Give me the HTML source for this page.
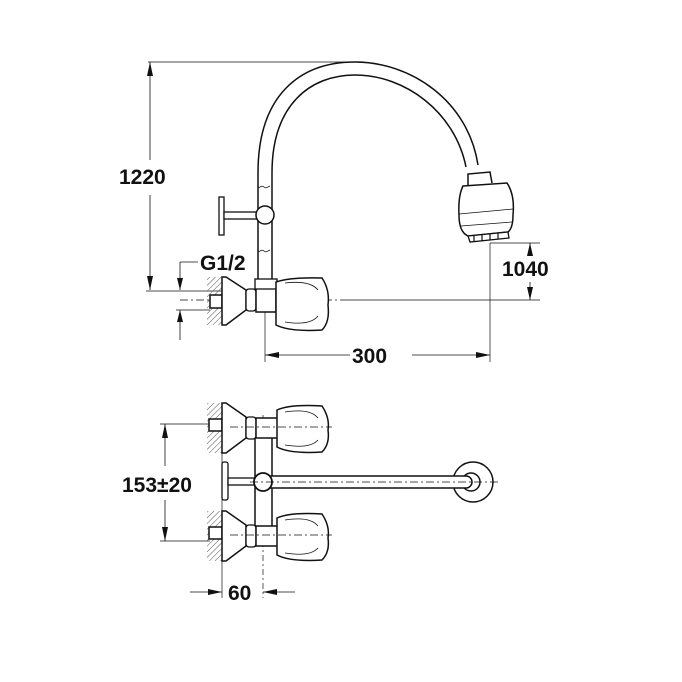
<!DOCTYPE html>
<html><head><meta charset="utf-8"><style>
html,body{margin:0;padding:0;background:#fff}
svg{display:block}
text{font-family:"Liberation Sans",sans-serif;font-weight:bold;font-size:21px;fill:#111}
</style></head><body>
<svg width="682" height="682" viewBox="0 0 682 682" xmlns="http://www.w3.org/2000/svg">
<defs>
<pattern id="h" width="4" height="4" patternUnits="userSpaceOnUse" patternTransform="rotate(45)"><line x1="0" y1="0" x2="0" y2="4" stroke="#555" stroke-width="1"/></pattern>
</defs>
<g fill="#111" stroke="none">
<!-- arrowheads -->
<polygon points="150,62 147,76 153,76"/>
<polygon points="150,290 147,276 153,276"/>
<polygon points="180,290 177,278 183,278"/>
<polygon points="180,310 177,322 183,322"/>
<polygon points="265,355 279,352 279,358"/>
<polygon points="490,355 476,352 476,358"/>
<polygon points="530,243 527,256 533,256"/>
<polygon points="530,300 527,287 533,287"/>
<polygon points="165,424 162,438 168,438"/>
<polygon points="165,541 162,527 168,527"/>
<polygon points="222,592 208,589 208,595"/>
<polygon points="263,592 277,589 277,595"/>
</g>
<g stroke="#111" fill="none" stroke-width="1">
<line x1="148" y1="62" x2="355" y2="62" stroke-width="0.7"/>
<line x1="150" y1="62" x2="150" y2="160" stroke-width="0.8"/>
<line x1="150" y1="195" x2="150" y2="290" stroke-width="0.8"/>
<line x1="146" y1="291" x2="222" y2="291" stroke-width="0.7"/>
<line x1="180" y1="262" x2="198" y2="262" stroke-width="0.8"/>
<line x1="180" y1="262" x2="180" y2="290" stroke-width="0.8"/>
<line x1="180" y1="340" x2="180" y2="310" stroke-width="0.8"/>
<line x1="176" y1="310" x2="210" y2="310" stroke-width="0.7"/>
<line x1="180" y1="300" x2="345" y2="300" stroke-dasharray="8,3,2,3" stroke-width="0.7"/>
<line x1="345" y1="300" x2="540" y2="300" stroke-width="0.7"/>
<line x1="490" y1="243" x2="540" y2="243" stroke-width="0.7"/>
<line x1="490" y1="243" x2="490" y2="362" stroke-width="0.7"/>
<line x1="265" y1="312" x2="265" y2="362" stroke-width="0.7"/>
<line x1="265" y1="355" x2="350" y2="355" stroke-width="0.8"/>
<line x1="412" y1="355" x2="490" y2="355" stroke-width="0.8"/>
<line x1="530" y1="243" x2="530" y2="256" stroke-width="0.8"/>
<line x1="530" y1="282" x2="530" y2="300" stroke-width="0.8"/>
<!-- spout arc -->
<path d="M258,280 L258,173 C258,95 300,62 355,62 C410,62 468,100 478,165" stroke-width="1.5"/>
<path d="M272,280 L272,173 C272,105 310,75 355,75 C405,75 455,112 466,167" stroke-width="1.5"/>
<path d="M258,188 l4,-2 l4,2 l4,-2 M258,252 l4,-2 l4,2 l4,-2" stroke-width="0.7"/>
<!-- shower head -->
<path d="M468,185 L468,174 L490,172 L492,183" fill="#fff" stroke-width="1.5"/>
<path d="M463,186 L507,183 Q515,195 513,215 Q513,228 508,232 L468,236 Q459,232 459,215 Q458,196 463,186z" fill="#fff" stroke-width="1.5"/>
<line x1="459" y1="214" x2="513" y2="209" stroke-width="0.7"/>
<line x1="461" y1="226" x2="512" y2="222" stroke-width="0.7"/>
<path d="M468,236 L508,232 L509,238 L470,242z" fill="#fff" stroke-width="1.3"/>
<path d="M474,236 l0,6 M482,235 l0,6 M490,234 l0,6 M498,233 l0,6" stroke-width="1.2"/>
<!-- T handle side -->
<rect x="219" y="197" width="5" height="38" fill="#fff" stroke-width="1.3"/>
<rect x="224" y="212" width="34" height="7" fill="#fff" stroke-width="1.3"/>
<circle cx="265" cy="215" r="9" fill="#fff" stroke-width="1.5"/>
<!-- valve top view -->
<rect x="207" y="277" width="15" height="48" fill="url(#h)" stroke="none"/>
<rect x="210" y="295" width="12" height="13" fill="#fff" stroke-width="1.5"/>
<path d="M222,277 L226,277 L246,290 L246,310 L226,325 L222,325z" fill="#fff" stroke-width="1.5"/>
<rect x="246" y="289" width="10" height="22" rx="3" fill="#fff" stroke-width="1.3"/>
<rect x="256" y="282" width="20" height="30" fill="#fff" stroke-width="1.5"/>
<rect x="255" y="279" width="22" height="10" fill="#fff" stroke-width="1.3"/>
<path d="M276,282 Q290,277 322,278 Q330,290 328,305 Q330,322 322,330 Q290,332 276,325z" fill="#fff" stroke-width="1.5"/>
<path d="M285,283 Q310,280 318,290 M285,322 Q310,326 318,316" stroke-width="0.8"/>
<!-- bottom view dims -->
<line x1="160" y1="424" x2="210" y2="424" stroke-width="0.7"/>
<line x1="160" y1="541" x2="210" y2="541" stroke-width="0.7"/>
<line x1="165" y1="424" x2="165" y2="466" stroke-width="0.8"/>
<line x1="165" y1="500" x2="165" y2="541" stroke-width="0.8"/>
<line x1="222" y1="450" x2="222" y2="598" stroke-width="0.7"/>
<line x1="263" y1="415" x2="263" y2="598" stroke-dasharray="6,3,2,3" stroke-width="0.7"/>
<line x1="190" y1="592" x2="222" y2="592" stroke-width="0.8"/>
<line x1="295" y1="592" x2="263" y2="592" stroke-width="0.8"/>
<!-- central pipe and ball -->
<path d="M255,430 L255,532 L272,532 L272,430" fill="#fff" stroke-width="1.5"/>
<rect x="222" y="462" width="6" height="38" rx="2" fill="#fff" stroke-width="1.3"/>
<rect x="228" y="478" width="28" height="7" fill="#fff" stroke-width="1.3"/>
<circle cx="473" cy="482" r="20" fill="#fff" stroke-width="1.5"/>
<circle cx="471" cy="482" r="9" fill="#fff" stroke-width="1.5"/>
<rect x="262" y="476" width="210" height="12" rx="6" fill="#fff" stroke-width="1.5"/>
<circle cx="263" cy="482" r="9" fill="#fff" stroke-width="1.8"/>
<line x1="250" y1="482" x2="498" y2="482" stroke-dasharray="8,3,2,3" stroke-width="0.7"/>
<!-- upper & lower valves -->
<g id="v">
<rect x="207" y="403" width="15" height="50" fill="url(#h)" stroke="none"/>
<rect x="209" y="419" width="13" height="12" fill="#fff" stroke-width="1.5"/>
<path d="M222,403 L226,403 L246,417 L246,438 L226,453 L222,453z" fill="#fff" stroke-width="1.5"/>
<rect x="246" y="417" width="10" height="22" rx="3" fill="#fff" stroke-width="1.3"/>
<rect x="256" y="418" width="22" height="20" fill="#fff" stroke-width="1.5"/>
<path d="M277,410 Q290,404 322,406 Q330,418 328,430 Q330,444 322,452 Q290,454 277,447z" fill="#fff" stroke-width="1.5"/>
<path d="M285,412 Q310,408 318,418 M285,445 Q310,449 318,440" stroke-width="0.8"/>
<line x1="230" y1="427" x2="332" y2="427" stroke-dasharray="8,3,2,3" stroke-width="0.7"/>
</g>
<use href="#v" transform="translate(0,108)"/>
</g>
<text x="119" y="184">1220</text>
<text x="200" y="270">G1/2</text>
<text x="502" y="276">1040</text>
<text x="352" y="363">300</text>
<text x="122" y="492">153±20</text>
<text x="228" y="600">60</text>
</svg>
</body></html>
